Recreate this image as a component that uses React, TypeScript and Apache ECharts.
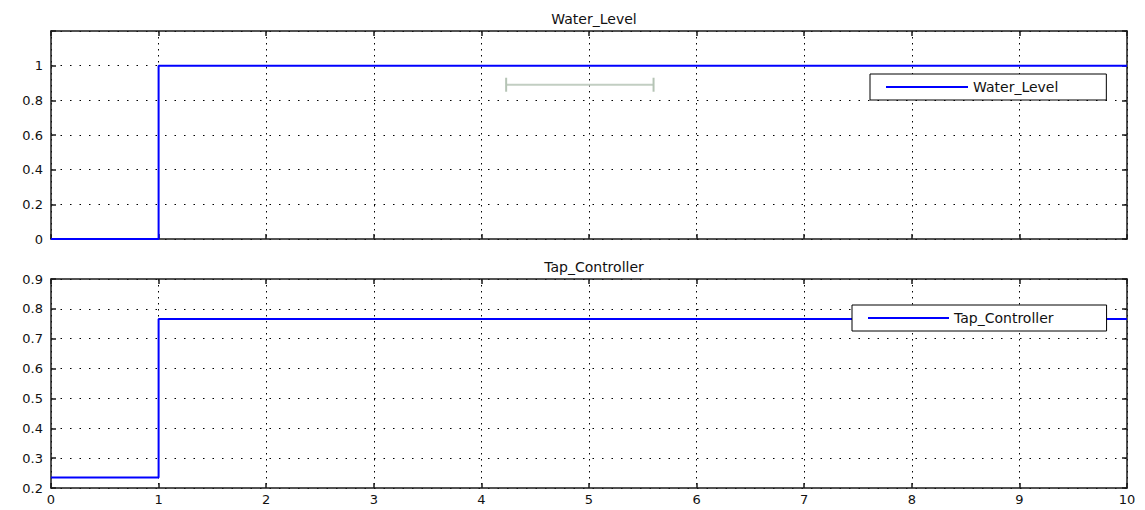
import React, { useEffect, useRef } from "react";
import * as echarts from "echarts";

const timePoints: number[] = [0, 1, 10];
const waterLevel: number[] = [0, 1, 1];
const tapController: number[] = [0.235, 0.766, 0.766];
const xTicks: string[] = ["0", "1", "2", "3", "4", "5", "6", "7", "8", "9", "10"];
const topYTicks: number[] = [0, 0.2, 0.4, 0.6, 0.8, 1];
const bottomYTicks: number[] = [0.2, 0.3, 0.4, 0.5, 0.6, 0.7, 0.8, 0.9];
const markerX: number[] = [4.23, 5.6];
const markerY: number[] = [0.89, 0.89];

const FONT = "DejaVu Sans";
const AX = "#1a1a1a";

function fmt(v: number): string {
  return String(parseFloat(v.toFixed(2)));
}

export default function App() {
  const ref = useRef<HTMLDivElement>(null);
  useEffect(() => {
    if (!ref.current) return;
    const chart = echarts.init(ref.current, undefined, { renderer: "svg" });
    const wl = timePoints.map((t, i) => [t, waterLevel[i]]);
    const tc = timePoints.map((t, i) => [t, tapController[i]]);
    const mk = markerX.map((x, i) => [x, markerY[i]]);
    const topShown = new Set(topYTicks.map(fmt));
    const botShown = new Set(bottomYTicks.map(fmt));

    const baseX = (grid: number, pos: "top" | "bottom", labels: boolean, grid2 = true) => ({
      type: "value",
      gridIndex: grid,
      position: pos,
      min: 0,
      max: xTicks.length - 1,
      interval: 1,
      axisLine: { show: true, onZero: false, lineStyle: { color: AX, width: 1.5 } },
      axisTick: { show: true, inside: true, length: 5, lineStyle: { color: AX, width: 1.5 } },
      axisLabel: {
        show: labels,
        color: "#111",
        fontFamily: FONT,
        fontSize: 13,
        margin: 5,
        formatter: (v: number) => xTicks[Math.round(v)] ?? "",
      },
      splitLine: {
        show: grid2,
        lineStyle: { color: "#000", width: 1, type: [1.5, 4.5] },
      },
    });

    const baseY = (
      grid: number,
      pos: "left" | "right",
      min: number,
      max: number,
      interval: number,
      shown: Set<string>,
      labels: boolean,
      split: boolean
    ) => ({
      type: "value",
      gridIndex: grid,
      position: pos,
      min,
      max,
      interval,
      axisLine: { show: true, onZero: false, lineStyle: { color: AX, width: 1.5 } },
      axisTick: { show: true, inside: true, length: 5, lineStyle: { color: AX, width: 1.5 } },
      axisLabel: {
        show: labels,
        color: "#111",
        fontFamily: FONT,
        fontSize: 13,
        margin: 8,
        formatter: (v: number) => (shown.has(fmt(v)) ? fmt(v) : ""),
      },
      splitLine: {
        show: split,
        lineStyle: { color: "#000", width: 1, type: [1.5, 8] },
      },
    });

    const legendBase = {
      orient: "vertical",
      itemHeight: 14,
      borderColor: "#000",
      borderWidth: 1,
      borderRadius: 0,
      backgroundColor: "#fff",
      itemStyle: { opacity: 0 },
      textStyle: { fontFamily: FONT, fontSize: 14, color: "#111" },
    };

    chart.setOption({
      animation: false,
      backgroundColor: "#ffffff",
      title: [
        {
          text: "Water_Level",
          left: 589,
          top: 7,
          textAlign: "center",
          textStyle: { fontFamily: FONT, fontSize: 14, fontWeight: "normal", color: "#111" },
        },
        {
          text: "Tap_Controller",
          left: 589,
          top: 255,
          textAlign: "center",
          textStyle: { fontFamily: FONT, fontSize: 14, fontWeight: "normal", color: "#111" },
        },
      ],
      grid: [
        { left: 51, top: 31, width: 1076, height: 208, show: false },
        { left: 51, top: 279, width: 1076, height: 209, show: false },
      ],
      xAxis: [
        baseX(0, "bottom", false, true),
        baseX(0, "top", false, false),
        baseX(1, "bottom", true, true),
        baseX(1, "top", false, false),
      ],
      yAxis: [
        baseY(0, "left", 0, 1.2, 0.2, topShown, true, true),
        baseY(0, "right", 0, 1.2, 0.2, topShown, false, false),
        baseY(1, "left", 0.2, 0.9, 0.1, botShown, true, true),
        baseY(1, "right", 0.2, 0.9, 0.1, botShown, false, false),
      ],
      legend: [
        {
          ...legendBase,
          data: ["Water_Level"],
          left: 870,
          top: 74,
          itemWidth: 82,
          padding: [6, 48, 6, 15],
        },
        {
          ...legendBase,
          data: ["Tap_Controller"],
          left: 852,
          top: 305,
          itemWidth: 81,
          padding: [6, 53, 6, 15],
        },
      ],
      series: [
        {
          name: "marker",
          type: "line",
          xAxisIndex: 0,
          yAxisIndex: 0,
          data: mk,
          symbol: "rect",
          symbolSize: [2, 14],
          showSymbol: true,
          itemStyle: { color: "#b5c4b5" },
          lineStyle: { color: "#c2cec2", width: 2 },
          silent: true,
          z: 1,
        },
        {
          name: "Water_Level",
          type: "line",
          xAxisIndex: 0,
          yAxisIndex: 0,
          data: wl,
          step: "end",
          symbol: "none",
          clip: false,
          lineStyle: { color: "#0000ff", width: 2 },
          itemStyle: { color: "#0000ff" },
          z: 3,
        },
        {
          name: "Tap_Controller",
          type: "line",
          xAxisIndex: 2,
          yAxisIndex: 2,
          data: tc,
          step: "end",
          symbol: "none",
          clip: false,
          lineStyle: { color: "#0000ff", width: 2 },
          itemStyle: { color: "#0000ff" },
          z: 3,
        },
      ],
    });
    return () => chart.dispose();
  }, []);
  return (
    <div
      ref={ref}
      style={{ position: "fixed", left: 0, top: 0, width: 1145, height: 510, background: "#fff" }}
    />
  );
}
